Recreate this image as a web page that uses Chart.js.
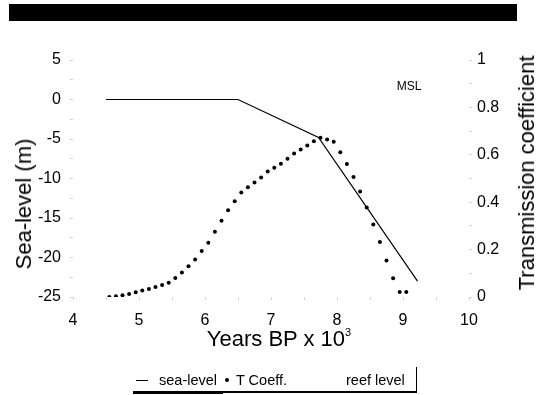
<!DOCTYPE html>
<html><head><meta charset="utf-8">
<script src="https://cdn.jsdelivr.net/npm/chart.js@4"></script>
<style>
html,body{margin:0;padding:0;background:#fff;}
#wrap{position:relative;width:539px;height:395px;overflow:hidden;font-family:"Liberation Sans",Arial,sans-serif;color:#000;background:#fff;}
canvas{position:absolute;left:0;top:0;}
.t{position:absolute;white-space:nowrap;line-height:1;}
.c{transform:translate(-50%,-50%);}
.r{transform:translate(-50%,-50%) rotate(-90deg);}
.lv{transform:translateY(-50%);}
</style></head><body>
<div id="wrap">
<div style="position:absolute;left:9px;top:4px;width:508px;height:17px;background:#000"></div>
<canvas id="c" width="539" height="395"></canvas>
<div class="t r" style="left:24px;top:204px;font-size:22px;">Sea-level (m)</div>
<div class="t r" style="left:527px;top:173px;font-size:22px;">Transmission coefficient</div>
<div class="t c" style="left:279px;top:338px;font-size:22px;">Years BP x 10<sup style="font-size:11px;vertical-align:10px;">3</sup></div>
<div class="t c" style="left:409px;top:86px;font-size:12px;">MSL</div>
<div style="position:absolute;left:133px;top:367px;width:283px;height:24px;border-right:1px solid #000;border-bottom:2px solid #000"></div>
<div style="position:absolute;left:133px;top:391px;width:90px;height:3px;background:#000"></div>
<div style="position:absolute;left:136px;top:380px;width:12px;height:1px;background:#000"></div>
<div class="t lv" style="left:159px;top:380px;font-size:14.5px;">sea-level</div>
<div style="position:absolute;left:225px;top:378px;width:4px;height:4px;border-radius:2px;background:#000"></div>
<div class="t lv" style="left:236px;top:380px;font-size:14.5px;">T Coeff.</div>
<div class="t lv" style="left:346px;top:380px;font-size:14.5px;">reef level</div>
</div>
<script>
// Sea-level curve (years BP x 1000, metres)
const seaYears = [4.5, 6.5, 7.72, 9.22];
const seaLevel = [0, 0, -4.8, -23];

// Transmission coefficient points
const tYears = [4.55,4.65,4.75,4.85,4.95,5.05,5.15,5.25,5.35,5.45,
                5.55,5.65,5.75,5.85,5.95,6.05,6.15,6.25,6.35,6.45,
                6.55,6.65,6.75,6.85,6.95,7.05,7.15,7.25,7.35,7.45,
                7.55,7.65,7.75,7.85,7.95,8.05,8.15,8.25,8.35,8.45,
                8.55,8.65,8.75,8.85,8.95,9.05];
const tCoeff = [0.000,0.003,0.007,0.013,0.020,0.027,0.034,0.042,0.051,0.060,
                0.080,0.103,0.130,0.158,0.194,0.229,0.275,0.322,0.366,0.404,
                0.441,0.463,0.483,0.504,0.530,0.545,0.562,0.583,0.605,0.622,
                0.639,0.657,0.672,0.665,0.655,0.611,0.561,0.506,0.445,0.378,
                0.306,0.232,0.154,0.079,0.021,0.021];

// Tick labels
const xTicks = [4, 5, 6, 7, 8, 9, 10];
const leftTicks = [5, 0, -5, -10, -15, -20, -25];
const rightTicks = [0, 0.2, 0.4, 0.6, 0.8, 1];
const rightTickLabels = ['0', '0.2', '0.4', '0.6', '0.8', '1'];

const tickFont = {family: '"Liberation Sans", Arial, sans-serif', size: 16};
const gridCfg = {display: true, drawOnChartArea: false, drawTicks: true, tickLength: 3, color: '#d4d4d4'};

new Chart(document.getElementById('c'), {
  type: 'scatter',
  data: {
    datasets: [
      {
        label: 'sea-level',
        data: seaYears.map((x, i) => ({x, y: seaLevel[i]})),
        yAxisID: 'y',
        showLine: true,
        borderColor: '#000',
        borderWidth: 1.2,
        pointRadius: 0,
        pointHoverRadius: 0,
        fill: false
      },
      {
        label: 'T Coeff.',
        data: tYears.map((x, i) => ({x, y: tCoeff[i]})),
        yAxisID: 'y1',
        showLine: false,
        pointRadius: 2,
        pointHoverRadius: 2,
        backgroundColor: '#000',
        borderColor: '#000',
        borderWidth: 0
      }
    ]
  },
  options: {
    responsive: false,
    animation: false,
    devicePixelRatio: 1,
    layout: {padding: {top: 60, left: 0, right: 0, bottom: 0}},
    plugins: {legend: {display: false}, tooltip: {enabled: false}},
    events: [],
    scales: {
      x: {
        type: 'linear', position: 'bottom', min: 4, max: 10,
        ticks: {
          stepSize: 0.5, autoSkip: false, maxRotation: 0, color: '#000', font: tickFont, padding: 11,
          callback: v => xTicks.includes(v) ? String(v) : ''
        },
        grid: gridCfg,
        border: {display: false},
        afterFit: s => { s.height = 98; }
      },
      y: {
        type: 'linear', position: 'left', min: -25, max: 5,
        ticks: {
          stepSize: 2.5, autoSkip: false, color: '#000', font: tickFont, padding: 9,
          callback: v => leftTicks.includes(v) ? String(v) : ''
        },
        grid: gridCfg,
        border: {display: false},
        afterFit: s => { s.width = 73; }
      },
      y1: {
        type: 'linear', position: 'right', min: 0, max: 1,
        ticks: {
          stepSize: 0.1, autoSkip: false, color: '#000', font: tickFont, padding: 5,
          callback: v => {
            const i = rightTicks.findIndex(t => Math.abs(t - v) < 1e-6);
            return i >= 0 ? rightTickLabels[i] : '';
          }
        },
        grid: gridCfg,
        border: {display: false},
        afterFit: s => { s.width = 70; }
      }
    }
  }
});
</script>
</body></html>
